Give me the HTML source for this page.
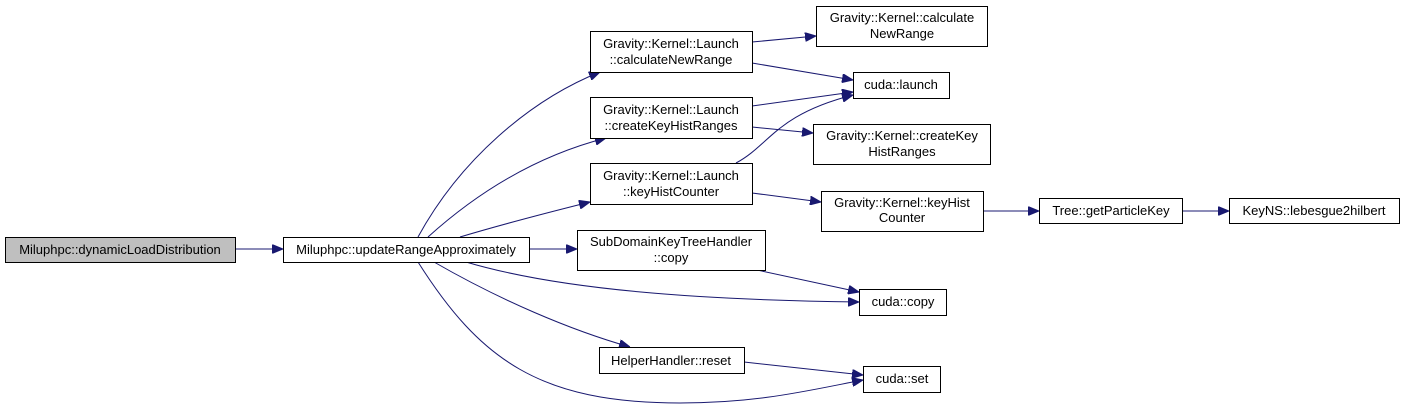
<!DOCTYPE html>
<html><head><meta charset="utf-8"><style>
html,body{margin:0;padding:0;background:#fff;}
svg{display:block}
text{font-family:"Liberation Sans",sans-serif;font-size:13px;fill:#000;text-anchor:middle}
rect{fill:#fff;stroke:#000;stroke-width:1}
path{fill:none;stroke:#191970;stroke-width:1}
</style></head><body>
<svg width="1404" height="407" viewBox="0 0 1404 407" xmlns="http://www.w3.org/2000/svg">
<defs><marker id="a" markerWidth="11" markerHeight="9" refX="11" refY="4.5" orient="auto" markerUnits="userSpaceOnUse"><path d="M0,0 L11,4.5 L0,9 Z" style="fill:#191970;stroke:#191970"/></marker></defs>
<g marker-end="url(#a)">
<path d="M235,249 L283,249"/>
<path d="M418,237 C460,160 530,100 600,72"/>
<path d="M428,237 C480,190 540,155 606,138"/>
<path d="M460,237 C500,225 550,212 590,202"/>
<path d="M529,249 L577,249"/>
<path d="M466,262 C560,290 700,300 859,302"/>
<path d="M434,262 C500,300 570,330 630,347"/>
<path d="M418,262 C480,360 540,403 680,403 C760,403 810,390 863,380"/>
<path d="M752,42 L816,36"/>
<path d="M752,63 L853,80"/>
<path d="M752,106 L853,92"/>
<path d="M752,127 L813,133"/>
<path d="M736,163 C770,145 775,115 853,95"/>
<path d="M752,193 L821,202"/>
<path d="M983,211 L1039,211"/>
<path d="M1182,211 L1229,211"/>
<path d="M757,270 L859,292"/>
<path d="M744,362 L863,375"/>
</g>
<rect x="5.5" y="237.5" width="230" height="25" style="fill:#bfbfbf"/>
<text x="120" y="254">Miluphpc::dynamicLoadDistribution</text>
<rect x="283.5" y="237.5" width="246" height="25"/>
<text x="406" y="254">Miluphpc::updateRangeApproximately</text>
<rect x="590.5" y="31.5" width="162" height="41"/>
<text x="671" y="48">Gravity::Kernel::Launch</text><text x="671" y="64">::calculateNewRange</text>
<rect x="590.5" y="97.5" width="162" height="41"/>
<text x="671" y="114">Gravity::Kernel::Launch</text><text x="671" y="130">::createKeyHistRanges</text>
<rect x="590.5" y="163.5" width="162" height="41"/>
<text x="671" y="180">Gravity::Kernel::Launch</text><text x="671" y="196">::keyHistCounter</text>
<rect x="577.5" y="230.5" width="188" height="40"/>
<text x="671" y="246">SubDomainKeyTreeHandler</text><text x="671" y="262">::copy</text>
<rect x="599.5" y="347.5" width="145" height="26"/>
<text x="671" y="365">HelperHandler::reset</text>
<rect x="816.5" y="6.5" width="171" height="40"/>
<text x="902" y="22">Gravity::Kernel::calculate</text><text x="902" y="38">NewRange</text>
<rect x="853.5" y="72.5" width="96" height="26"/>
<text x="901" y="89">cuda::launch</text>
<rect x="813.5" y="124.5" width="177" height="40"/>
<text x="902" y="140">Gravity::Kernel::createKey</text><text x="902" y="156">HistRanges</text>
<rect x="821.5" y="191.5" width="162" height="40"/>
<text x="902" y="207">Gravity::Kernel::keyHist</text><text x="902" y="222">Counter</text>
<rect x="1039.5" y="198.5" width="143" height="25"/>
<text x="1111" y="215">Tree::getParticleKey</text>
<rect x="1229.5" y="198.5" width="170" height="25"/>
<text x="1314" y="215">KeyNS::lebesgue2hilbert</text>
<rect x="859.5" y="289.5" width="87" height="26"/>
<text x="903" y="306">cuda::copy</text>
<rect x="863.5" y="366.5" width="77" height="26"/>
<text x="902" y="383">cuda::set</text>
</svg>
</body></html>
